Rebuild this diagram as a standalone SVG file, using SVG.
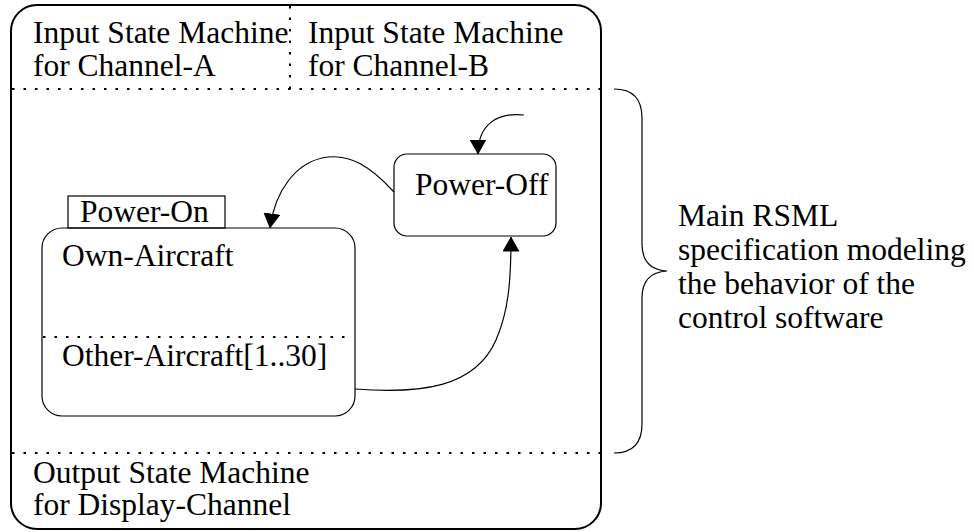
<svg xmlns="http://www.w3.org/2000/svg" width="974" height="532" viewBox="0 0 974 532">
  <style>
    .t { font-family: "Liberation Serif", "Times New Roman", serif; font-size: 31.5px; fill: #000; }
    .box { fill: none; stroke: #000; stroke-width: 1.2; }
    .frame { fill: none; stroke: #000; stroke-width: 2; }
    .dot { fill: none; stroke: #000; stroke-width: 2; stroke-dasharray: 2.5 9; }
    .conn { fill: none; stroke: #000; stroke-width: 1.2; }
  </style>
  <defs>
    <marker id="arrow" viewBox="0 0 15 17" refX="14.5" refY="8.5" markerWidth="15" markerHeight="17" markerUnits="userSpaceOnUse" orient="auto">
      <path d="M0,0 L15,8.5 L0,17 Z" fill="#000"/>
    </marker>
  </defs>

  <rect width="974" height="532" fill="#fff"/>

  <!-- outer specification frame with its section dividers -->
  <g id="frame">
    <rect class="frame" x="11" y="5" width="590" height="524" rx="26" ry="26"/>
    <line class="dot" x1="12" y1="89" x2="600" y2="89"/>
    <line class="dot" x1="290" y1="6" x2="290" y2="89"/>
    <line class="dot" x1="12" y1="453" x2="600" y2="453"/>
  </g>

  <g id="input-a">
    <text class="t" x="33" y="43">Input State Machine</text>
    <text class="t" x="33" y="76">for Channel-A</text>
  </g>

  <g id="input-b">
    <text class="t" x="308" y="43">Input State Machine</text>
    <text class="t" x="308" y="76">for Channel-B</text>
  </g>

  <g id="output">
    <text class="t" x="33" y="483">Output State Machine</text>
    <text class="t" x="33" y="515">for Display-Channel</text>
  </g>

  <g id="power-off">
    <rect class="box" x="394" y="154" width="162" height="82" rx="13" ry="13"/>
    <text class="t" x="415" y="195">Power-Off</text>
  </g>

  <g id="power-on">
    <rect class="box" x="68" y="196" width="157" height="32"/>
    <text class="t" x="80" y="222">Power-On</text>
    <rect class="box" x="42" y="228" width="313" height="188" rx="20" ry="20"/>
    <line class="dot" x1="43" y1="337" x2="346" y2="337"/>
    <text class="t" x="62" y="266">Own-Aircraft</text>
    <text class="t" x="62" y="366">Other-Aircraft[1..30]</text>
  </g>

  <!-- brace grouping the main specification area -->
  <g id="main-label">
    <path class="conn" stroke-width="2" d="M614,89 C632,89 642,98 642,118 L642,244 C642,260 650,270 667,271 C650,272 642,282 642,298 L642,424 C642,444 632,453 614,453"/>
    <text class="t" x="678" y="226">Main RSML</text>
    <text class="t" x="678" y="260">specification modeling</text>
    <text class="t" x="678" y="294">the behavior of the</text>
    <text class="t" x="678" y="328">control software</text>
  </g>

  <g id="connectors">
    <path class="conn" marker-end="url(#arrow)" d="M524,115 C498,112 478,124 478,154"/>
    <path class="conn" marker-end="url(#arrow)" d="M394,192 C372,168 350,152 322,158 C296,164 275,190 270,228"/>
    <path class="conn" marker-end="url(#arrow)" d="M355,389 C420,394 475,388 496,340 C508,312 511,285 511,237"/>
  </g>
</svg>
